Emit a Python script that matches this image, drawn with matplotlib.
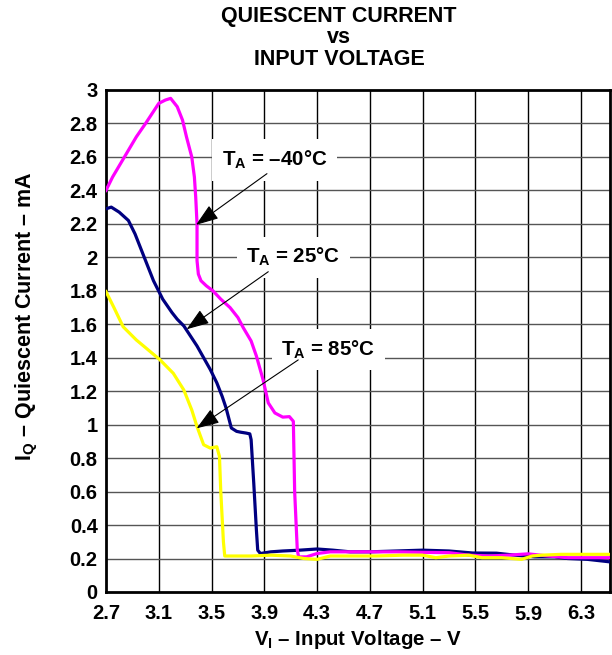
import matplotlib
matplotlib.use('Agg')

import numpy as np
import matplotlib.pyplot as plt
import matplotlib.transforms as mtransforms

plt.rcParams['font.family'] = ['Liberation Sans', 'DejaVu Sans']
plt.rcParams['font.weight'] = 'bold'
plt.rcParams['mathtext.fontset'] = 'custom'
plt.rcParams['mathtext.rm'] = 'Liberation Sans:bold'
plt.rcParams['mathtext.bf'] = 'Liberation Sans:bold'
plt.rcParams['mathtext.it'] = 'Liberation Sans:bold'

# TA = -40 C (magenta)
v_m40 = [2.70, 2.75, 2.81, 2.87, 2.93, 3.00, 3.05, 3.10, 3.15, 3.19, 3.24, 3.28, 3.31, 3.35,
         3.37, 3.38, 3.39, 3.39, 3.40, 3.42, 3.46, 3.51, 3.57, 3.64, 3.70, 3.74, 3.80, 3.84,
         3.89, 3.93, 3.98, 4.04, 4.09, 4.12, 4.13, 4.15, 4.16, 4.22, 4.30, 4.40, 4.55, 4.70,
         4.90, 5.10, 5.30, 5.45, 5.60, 5.75, 5.90, 6.05, 6.20, 6.35, 6.52]
i_m40 = [2.40, 2.48, 2.56, 2.64, 2.72, 2.80, 2.86, 2.92, 2.94, 2.95, 2.90, 2.82, 2.72, 2.60,
         2.48, 2.36, 2.20, 1.98, 1.90, 1.86, 1.83, 1.80, 1.75, 1.70, 1.64, 1.58, 1.50, 1.41,
         1.27, 1.13, 1.07, 1.045, 1.048, 1.02, 0.60, 0.25, 0.21, 0.21, 0.23, 0.24, 0.24, 0.24,
         0.24, 0.237, 0.235, 0.22, 0.215, 0.22, 0.228, 0.215, 0.205, 0.205, 0.205]

# TA = 25 C (navy)
v_25 = [2.70, 2.74, 2.80, 2.87, 2.92, 2.96, 3.01, 3.06, 3.13, 3.20, 3.24, 3.29, 3.34, 3.39,
        3.44, 3.49, 3.54, 3.58, 3.61, 3.63, 3.65, 3.69, 3.72, 3.76, 3.79, 3.80, 3.82, 3.84,
        3.85, 3.87, 3.95, 4.04, 4.17, 4.30, 4.42, 4.55, 4.70, 4.90, 5.10, 5.30, 5.48, 5.66,
        5.80, 5.95, 6.10, 6.20, 6.35, 6.52]
i_25 = [2.29, 2.30, 2.27, 2.22, 2.14, 2.06, 1.96, 1.86, 1.75, 1.67, 1.63, 1.59, 1.53, 1.47,
        1.40, 1.33, 1.25, 1.17, 1.10, 1.04, 0.98, 0.96, 0.955, 0.95, 0.945, 0.91, 0.65, 0.37,
        0.25, 0.23, 0.24, 0.245, 0.25, 0.257, 0.25, 0.24, 0.24, 0.245, 0.25, 0.245, 0.233, 0.232,
        0.22, 0.21, 0.21, 0.20, 0.195, 0.18]

# TA = 85 C (yellow)
v_85 = [2.70, 2.76, 2.83, 2.93, 3.00, 3.11, 3.21, 3.29, 3.35, 3.39, 3.44, 3.49, 3.54, 3.56,
        3.57, 3.59, 3.60, 3.65, 3.80, 3.95, 4.10, 4.20, 4.30, 4.40, 4.55, 4.75, 4.95, 5.10,
        5.20, 5.30, 5.45, 5.55, 5.70, 5.85, 5.93, 6.00, 6.15, 6.30, 6.52]
i_85 = [1.795, 1.70, 1.585, 1.506, 1.46, 1.387, 1.307, 1.207, 1.088, 0.988, 0.88, 0.86, 0.868, 0.81,
        0.60, 0.30, 0.215, 0.215, 0.215, 0.22, 0.215, 0.20, 0.195, 0.215, 0.215, 0.215, 0.22, 0.22,
        0.205, 0.215, 0.22, 0.205, 0.205, 0.195, 0.215, 0.22, 0.225, 0.225, 0.225]

x_ticks = [2.7, 3.1, 3.5, 3.9, 4.3, 4.7, 5.1, 5.5, 5.9, 6.3]
y_ticks = [0, 0.2, 0.4, 0.6, 0.8, 1, 1.2, 1.4, 1.6, 1.8, 2, 2.2, 2.4, 2.6, 2.8, 3]
y_tick_labels = ['0', '0.2', '0.4', '0.6', '0.8', '1', '1.2', '1.4', '1.6', '1.8',
                 '2', '2.2', '2.4', '2.6', '2.8', '3']

# label text, text centre, arrow start, arrow tip
labels = [
    (r'$\mathbf{T_A}$ = –40°C', (3.98, 2.58), (3.92, 2.50), (3.382, 2.194)),
    (r'$\mathbf{T_A}$ = 25°C', (4.12, 2.00), (3.93, 1.914), (3.311, 1.570)),
    (r'$\mathbf{T_A}$ = 85°C', (4.385, 1.45), (4.157, 1.387), (3.387, 0.978)),
]

fig = plt.figure(figsize=(6.12, 6.55), dpi=100)
ax = fig.add_axes([0.1732, 0.0962, 0.8235, 0.7664])

ax.plot(v_25, i_25, color='#000080', lw=2.3, zorder=3)
ax.plot(v_m40, i_m40, color='#ff00ff', lw=2.3, zorder=3)
ax.plot(v_85, i_85, color='#ffff00', lw=2.3, zorder=3)

ax.set_xlim(2.7, 6.52)
ax.set_ylim(0, 3)
ax.set_xticks(x_ticks)
ax.set_xticklabels([f'{t:.1f}' for t in x_ticks])
ax.set_yticks(y_ticks)
ax.set_yticklabels(y_tick_labels)
ax.tick_params(length=0, labelsize=14.5, pad=6)
ax.tick_params(axis='x', pad=9)
for lab in ax.get_xticklabels() + ax.get_yticklabels():
    lab.set_fontweight('bold')

# grid: black verticals, grey horizontals
for xv in x_ticks[1:]:
    ax.axvline(xv, color='black', lw=1.0, zorder=1)
for yv in y_ticks[1:-1]:
    ax.axhline(yv, color='#555555', lw=1.0, zorder=1)

for sp in ax.spines.values():
    sp.set_linewidth(2)

# 5.9 label sits a bit lower in the original
off = mtransforms.ScaledTranslation(0, -0.6 / 72, fig.dpi_scale_trans)
for lab in ax.get_xticklabels():
    if lab.get_text() == '5.9':
        lab.set_transform(lab.get_transform() + off)

for txt, pos, start, tip in labels:
    ax.text(pos[0], pos[1], txt, fontsize=14.8, fontweight='bold', ha='center', va='center',
            zorder=4, bbox=dict(facecolor='white', edgecolor='none', pad=7))
    ax.annotate('', xy=tip, xytext=start, zorder=5,
                arrowprops=dict(arrowstyle='-|>,head_length=1.4,head_width=0.5',
                                color='black', lw=0.8, shrinkA=0, shrinkB=0))

ax.set_xlabel(r'$\mathbf{V_I}$ – Input Voltage – V', fontsize=14.7, fontweight='bold')
ax.xaxis.set_label_coords(0.5, -0.072)
ax.set_ylabel(r'$\mathbf{I_Q}$ – Quiescent Current – mA', fontsize=15.5, fontweight='bold')
ax.yaxis.set_label_coords(-0.13, 0.55)

fig.text(0.554, 1 - 22 / 655, 'QUIESCENT CURRENT', ha='center', va='baseline',
         fontsize=15.5, fontweight='bold')
fig.text(0.554, 1 - 43 / 655, 'vs', ha='center', va='baseline', fontsize=15.5, fontweight='bold')
fig.text(0.554, 1 - 65 / 655, 'INPUT VOLTAGE', ha='center', va='baseline',
         fontsize=15.5, fontweight='bold')

plt.savefig('out.png', dpi=100)
plt.close(fig)
